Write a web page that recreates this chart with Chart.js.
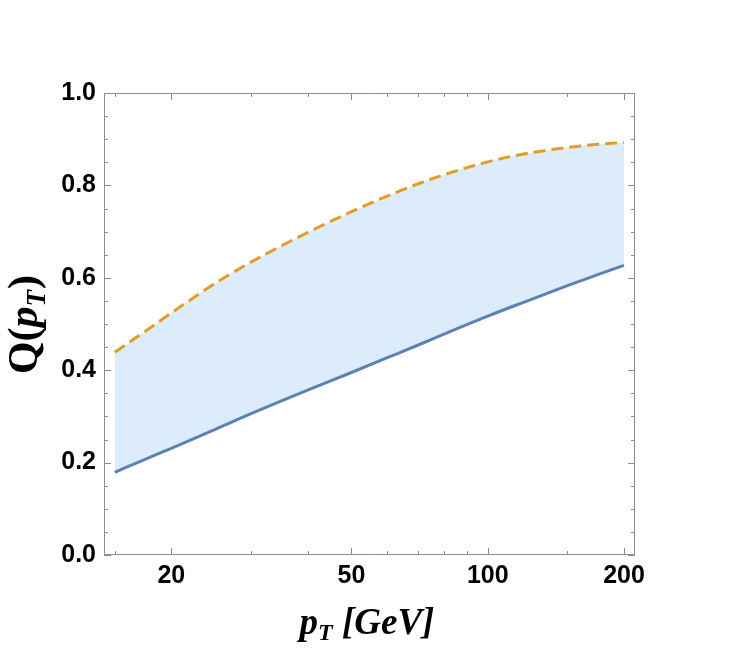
<!DOCTYPE html>
<html lang="en">
  <head>
    <meta charset="UTF-8" />
    <title>Q(pT)</title>
    <script src="https://cdn.jsdelivr.net/npm/chart.js"></script>
    <style>
      body {
        margin: 0;
        background: #fff;
      }
    </style>
  </head>
  <body>
    <canvas id="grafico" width="730" height="650"></canvas>

    <script>
      // dados
      const pT = [15, 17.5, 20, 25, 30, 40, 50, 60, 70, 80, 100, 120, 150, 175, 200]
      const qUpper = [0.439, 0.484, 0.524, 0.588, 0.634, 0.698, 0.743, 0.777, 0.803, 0.823, 0.851, 0.868, 0.882, 0.889, 0.893]
      const qLower = [0.179, 0.207, 0.231, 0.272, 0.306, 0.357, 0.395, 0.427, 0.454, 0.478, 0.517, 0.547, 0.583, 0.607, 0.627]

      // marcas dos eixos
      const xLabels = [20, 50, 100, 200]
      const xMinor = [15, 30, 40, 60, 70, 80, 90, 150]
      const yLabels = [0, 0.2, 0.4, 0.6, 0.8, 1.0]
      const yMinor = [0.05, 0.1, 0.15, 0.25, 0.3, 0.35, 0.45, 0.5, 0.55, 0.65, 0.7, 0.75, 0.85, 0.9, 0.95]

      const corFrame = '#8e8e8e'

      // moldura com marcas para dentro (estilo Mathematica)
      const moldura = {
        id: 'moldura',
        afterDatasetsDraw(chart) {
          const ctx = chart.ctx
          const a = chart.chartArea
          const x = chart.scales.x
          const y = chart.scales.y
          ctx.save()
          ctx.strokeStyle = corFrame
          ctx.lineWidth = 1
          ctx.beginPath()
          ctx.rect(a.left + 0.5, a.top + 0.5, a.right - a.left - 1, a.bottom - a.top - 1)
          ctx.stroke()

          function marcaX(v, len) {
            const px = Math.round(x.getPixelForValue(v)) + 0.5
            ctx.moveTo(px, a.bottom)
            ctx.lineTo(px, a.bottom - len)
            ctx.moveTo(px, a.top)
            ctx.lineTo(px, a.top + len)
          }
          function marcaY(v, len) {
            const py = Math.round(y.getPixelForValue(v)) + 0.5
            ctx.moveTo(a.left, py)
            ctx.lineTo(a.left + len, py)
            ctx.moveTo(a.right, py)
            ctx.lineTo(a.right - len, py)
          }
          ctx.beginPath()
          xLabels.forEach(v => marcaX(v, 7))
          xMinor.forEach(v => marcaX(v, 4))
          yLabels.forEach(v => marcaY(v, 7))
          yMinor.forEach(v => marcaY(v, 4))
          ctx.stroke()
          ctx.restore()
        },
        afterDraw(chart) {
          const ctx = chart.ctx
          ctx.save()
          ctx.fillStyle = '#000'
          ctx.textBaseline = 'alphabetic'

          // titulo do eixo x: p_T [GeV]
          const fx = 'italic bold 37px "Liberation Serif"'
          const fs = 'italic bold 24px "Liberation Serif"'
          ctx.font = fx
          const w1 = ctx.measureText('p').width
          const w3 = ctx.measureText(' [GeV]').width
          ctx.font = fs
          const w2 = ctx.measureText('T').width
          let cx = 367 - (w1 + w2 + w3) / 2
          const by = 634
          ctx.font = fx
          ctx.fillText('p', cx, by)
          cx += w1
          ctx.font = fs
          ctx.fillText('T', cx, by + 6)
          cx += w2
          ctx.font = fx
          ctx.fillText(' [GeV]', cx, by)

          // titulo do eixo y: Q(p_T)
          ctx.translate(37, 325)
          ctx.rotate(-Math.PI / 2)
          const fq = 'bold 42px "Liberation Serif"'
          const fp = 'italic bold 42px "Liberation Serif"'
          const ft = 'italic bold 27px "Liberation Serif"'
          ctx.font = fq
          const q1 = ctx.measureText('Q(').width
          const q4 = ctx.measureText(')').width
          ctx.font = fp
          const q2 = ctx.measureText('p').width
          ctx.font = ft
          const q3 = ctx.measureText('T').width
          let qx = -(q1 + q2 + q3 + q4) / 2
          ctx.font = fq
          ctx.fillText('Q(', qx, 0)
          qx += q1
          ctx.font = fp
          ctx.fillText('p', qx, 0)
          qx += q2
          ctx.font = ft
          ctx.fillText('T', qx, 8)
          qx += q3 + 1
          ctx.font = fq
          ctx.fillText(')', qx, 0)
          ctx.restore()
        }
      }

      const upperData = pT.map((v, i) => ({ x: v, y: qUpper[i] }))
      const lowerData = pT.map((v, i) => ({ x: v, y: qLower[i] }))

      const config = {
        type: 'line',
        data: {
          datasets: [
            {
              label: 'upper',
              data: upperData,
              borderColor: '#E29D24',
              borderWidth: 3,
              borderDash: [12, 6],
              pointRadius: 0,
              cubicInterpolationMode: 'monotone',
              fill: 1,
              backgroundColor: '#DCECFB'
            },
            {
              label: 'lower',
              data: lowerData,
              borderColor: '#5E81B5',
              borderWidth: 3,
              pointRadius: 0,
              cubicInterpolationMode: 'monotone',
              fill: false
            }
          ]
        },
        options: {
          responsive: false,
          animation: false,
          layout: {
            padding: { left: 0, top: 93, right: 95, bottom: 55 }
          },
          plugins: {
            legend: { display: false },
            tooltip: { enabled: false },
            filler: { drawTime: 'beforeDatasetsDraw' }
          },
          scales: {
            x: {
              type: 'logarithmic',
              min: 14.2,
              max: 211.5,
              grid: { display: false, drawTicks: false },
              border: { display: false },
              afterBuildTicks: s => {
                s.ticks = xLabels.map(v => ({ value: v }))
              },
              afterFit: s => {
                s.height = 40
              },
              ticks: {
                autoSkip: false,
                maxRotation: 0,
                padding: 6,
                color: '#000',
                font: { family: 'Liberation Sans', size: 25, weight: 'bold' },
                callback: v => String(v)
              }
            },
            y: {
              min: 0,
              max: 1,
              grid: { display: false, drawTicks: false },
              border: { display: false },
              afterBuildTicks: s => {
                s.ticks = yLabels.map(v => ({ value: v }))
              },
              afterFit: s => {
                s.width = 104
              },
              ticks: {
                padding: 8,
                color: '#000',
                font: { family: 'Liberation Sans', size: 25, weight: 'bold' },
                callback: v => v.toFixed(1)
              }
            }
          }
        },
        plugins: [moldura]
      }

      let myChart = new Chart(document.getElementById('grafico'), config)
    </script>
  </body>
</html>
